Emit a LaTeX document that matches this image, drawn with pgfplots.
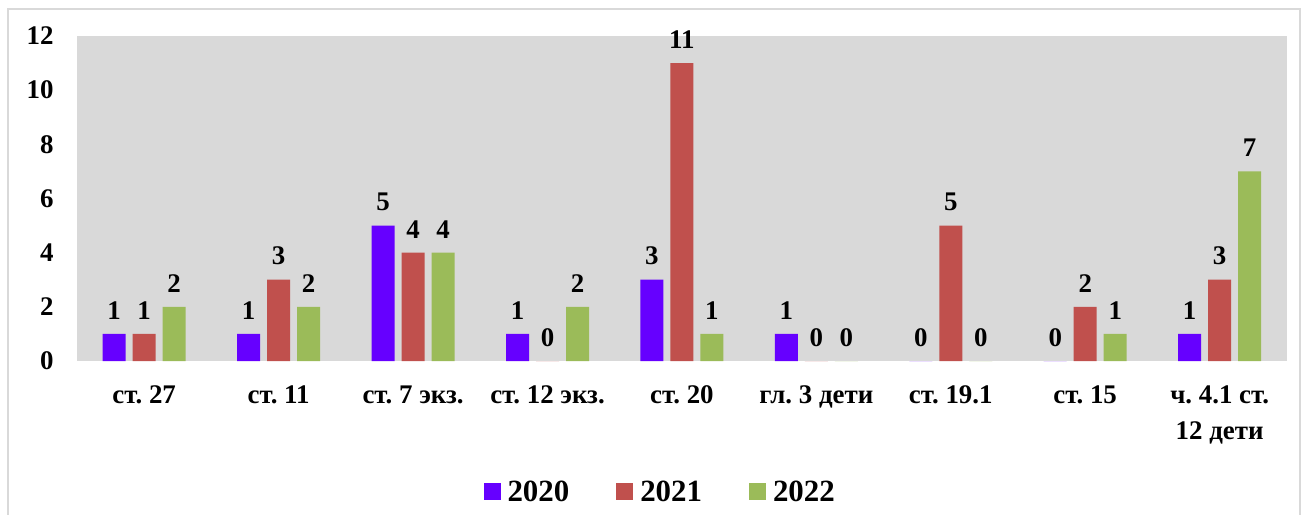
\documentclass[border=0pt]{standalone}
\usepackage{fontspec}
\setmainfont{Liberation Serif}
\usepackage{pgfplots}
\pgfplotsset{compat=1.18}
\definecolor{cA}{HTML}{6600FF}
\definecolor{cB}{HTML}{C0504D}
\definecolor{cC}{HTML}{9BBB59}
\definecolor{bgG}{HTML}{D9D9D9}
\begin{document}
\frenchspacing
\begin{tikzpicture}
\useasboundingbox (0bp,0bp) rectangle (1302bp,515bp);
\draw[bgG, line width=1.5bp] (8bp,-10bp) rectangle (1300bp,506bp);
\begin{axis}[
  at={(77bp,154bp)}, anchor=south west,
  scale only axis, width=1210bp, height=325bp,
  xmin=-0.5, xmax=8.5, ymin=0, ymax=12,
  clip=false,
  ybar=7bp, bar width=23bp,
  axis background/.style={fill=bgG},
  axis line style={draw=none},
  xtick={0,1,...,8},
  xticklabels={ст. 27, ст. 11, ст. 7 экз., ст. 12 экз., ст. 20, гл. 3 дети, ст. 19.1, ст. 15, {ч. 4.1 ст.\\12 дети}},
  x tick style={draw=none},
  ytick={0,2,...,12},
  y tick style={draw=none},
  /pgf/number format/assume math mode=true,
  xticklabel style={font=\fontsize{27}{36}\selectfont\bfseries, align=center, yshift=-17bp},
  yticklabel style={font=\fontsize{27}{28}\selectfont\bfseries, xshift=-20bp},
  nodes near coords,
  nodes near coords style={font=\fontsize{27}{28}\selectfont\bfseries, text=black, yshift=11bp},
  legend columns=3,
  legend style={at={(0.482,-0.403)}, anchor=center, draw=none, fill=none,
    font=\fontsize{31}{34}\selectfont\bfseries,
    /tikz/every odd column/.append style={column sep=5bp},
    /tikz/every even column/.append style={column sep=45bp}},
  legend image code/.code={\fill[#1] (0bp,-8.5bp) rectangle (17bp,8.5bp);},
]
\addplot[fill=cA, draw=none] coordinates {(0,1) (1,1) (2,5) (3,1) (4,3) (5,1) (6,0) (7,0) (8,1)};
\addplot[fill=cB, draw=none] coordinates {(0,1) (1,3) (2,4) (3,0) (4,11) (5,0) (6,5) (7,2) (8,3)};
\addplot[fill=cC, draw=none] coordinates {(0,2) (1,2) (2,4) (3,2) (4,1) (5,0) (6,0) (7,1) (8,7)};
\legend{2020,2021,2022}
\end{axis}
\end{tikzpicture}
\end{document}
